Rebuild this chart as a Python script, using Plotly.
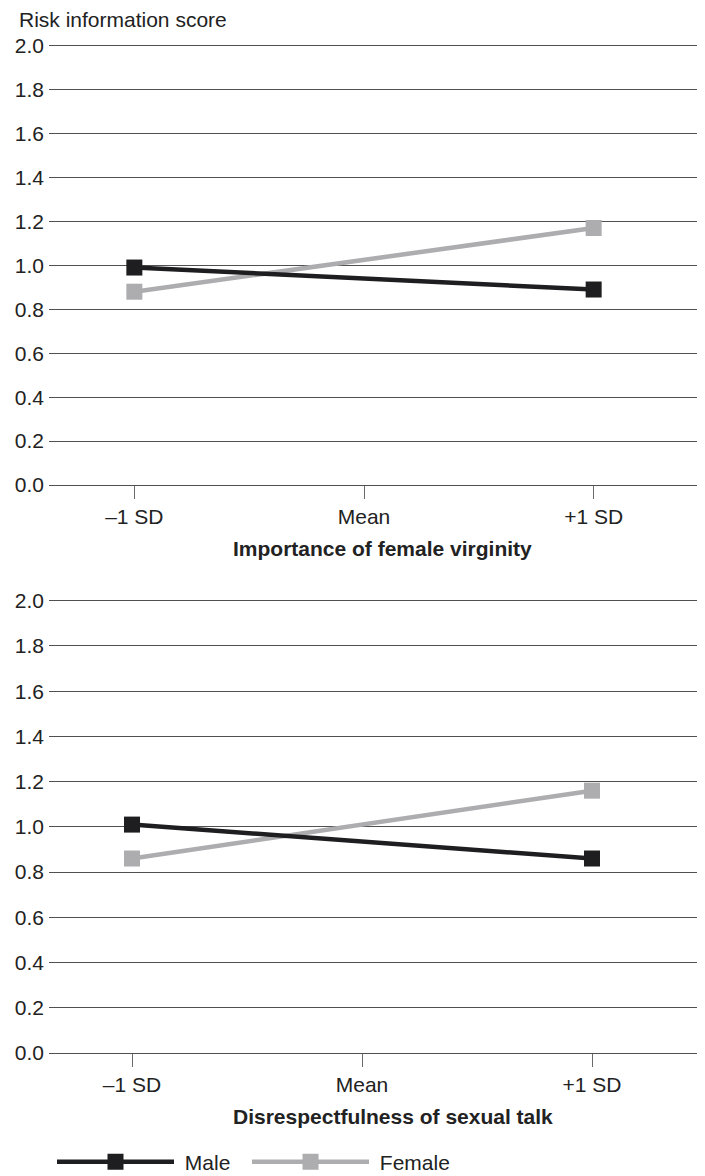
import plotly.graph_objects as go

# ---- data ----
x_levels = [-1, 1]
tick_vals = [-1, 0, 1]
tick_text = ["\u20131 SD", "Mean", "+1 SD"]

virginity_male = [0.99, 0.89]
virginity_female = [0.88, 1.17]

talk_male = [1.01, 0.86]
talk_female = [0.86, 1.16]

panel_titles = ["Importance of female virginity", "Disrespectfulness of sexual talk"]
y_title = "Risk information score"
series_names = ["Male", "Female"]

# ---- style ----
MALE_C = "#1e1e20"
FEMALE_C = "#adadb0"
GRID_C = "#505050"
TEXT_C = "#222222"
FONT = "Liberation Sans, Arial, sans-serif"

OFF = 8  # page body margin
W, H = 705 - OFF, 1176 - OFF
ML, MR = 41, 5
PW = W - ML - MR


def fy(page_y):
    return 1 - (page_y - OFF) / H


def fx(page_x):
    return (page_x - OFF - ML) / PW


fig = go.Figure()
line_w = 4.5
msize = 16

legend_labels = [" " + series_names[0] + "\u00a0\u00a0", " " + series_names[1]]

panels = [(virginity_male, virginity_female), (talk_male, talk_female)]
for i, (m, f) in enumerate(panels):
    xa = "x" if i == 0 else "x2"
    ya = "y" if i == 0 else "y2"
    fig.add_trace(go.Scatter(x=x_levels, y=f, mode="lines+markers", name=legend_labels[1],
                             line=dict(color=FEMALE_C, width=line_w),
                             marker=dict(symbol="square", size=msize, color=FEMALE_C),
                             xaxis=xa, yaxis=ya, showlegend=(i == 1), legendrank=2))
    fig.add_trace(go.Scatter(x=x_levels, y=m, mode="lines+markers", name=legend_labels[0],
                             line=dict(color=MALE_C, width=line_w),
                             marker=dict(symbol="square", size=msize, color=MALE_C),
                             xaxis=xa, yaxis=ya, showlegend=(i == 1), legendrank=1))

axis_font = dict(family=FONT, size=21, color=TEXT_C)

YMAX = 2.01
common_y = dict(range=[0, YMAX], tickvals=[0, 0.2, 0.4, 0.6, 0.8, 1.0, 1.2, 1.4, 1.6, 1.8, 2.0],
                tickformat=".1f", showgrid=True,
                gridcolor=GRID_C, gridwidth=1.4, zeroline=False, showline=False,
                ticks="", tickfont=axis_font, ticklabelstandoff=4, fixedrange=True)
common_x = dict(tickvals=tick_vals, ticktext=tick_text, showgrid=False, zeroline=False,
                showline=True, linecolor=GRID_C, linewidth=1.4, ticks="outside",
                ticklen=13, tickcolor="#6a6a6a", tickwidth=1.4, tickfont=axis_font,
                fixedrange=True)

# panel geometry (page px)
top_y2, top_y0 = 45.7, 485.0
bot_y2, bot_y0 = 600.7, 1053.0
top_scale = (top_y0 - top_y2) / 2
bot_scale = (bot_y0 - bot_y2) / 2
top_dom = [fy(top_y0), fy(top_y2 - (YMAX - 2) * top_scale)]
bot_dom = [fy(bot_y0), fy(bot_y2 - (YMAX - 2) * bot_scale)]


def xrange(t_left, t_mid, t_right):
    scale = (t_right - t_left) / 2
    left_px, right_px = ML + OFF, W - MR + OFF
    return [(left_px - t_mid) / scale, (right_px - t_mid) / scale]


fig.update_layout(
    width=W, height=H,
    margin=dict(l=ML, r=MR, t=0, b=0, autoexpand=False),
    paper_bgcolor="white", plot_bgcolor="white",
    font=dict(family=FONT, color=TEXT_C),
    xaxis=dict(**common_x, domain=[0, 1], anchor="y", range=xrange(136.7, 364, 596)),
    yaxis=dict(**common_y, domain=top_dom, anchor="x"),
    xaxis2=dict(**common_x, domain=[0, 1], anchor="y2", range=xrange(133, 362, 593)),
    yaxis2=dict(**common_y, domain=bot_dom, anchor="x2"),
    legend=dict(orientation="h", x=fx(52), xanchor="left", y=fy(1162),
                yanchor="middle", font=dict(family=FONT, size=21, color=TEXT_C),
                itemwidth=117, traceorder="normal",
                bgcolor="rgba(0,0,0,0)"),
    showlegend=True,
)

fig.add_annotation(text=y_title, xref="paper", yref="paper", x=fx(16.7),
                   xanchor="left", y=fy(19.3), yanchor="middle", showarrow=False,
                   font=dict(family=FONT, size=21, color=TEXT_C))
fig.add_annotation(text="<b>" + panel_titles[0] + "</b>", xref="paper", yref="paper",
                   x=fx(382), xanchor="center", y=fy(548), yanchor="middle", showarrow=False,
                   font=dict(family=FONT, size=21, color=TEXT_C))
fig.add_annotation(text="<b>" + panel_titles[1] + "</b>", xref="paper", yref="paper",
                   x=fx(393), xanchor="center", y=fy(1116), yanchor="middle", showarrow=False,
                   font=dict(family=FONT, size=21, color=TEXT_C))

fig.write_html("out.html")
